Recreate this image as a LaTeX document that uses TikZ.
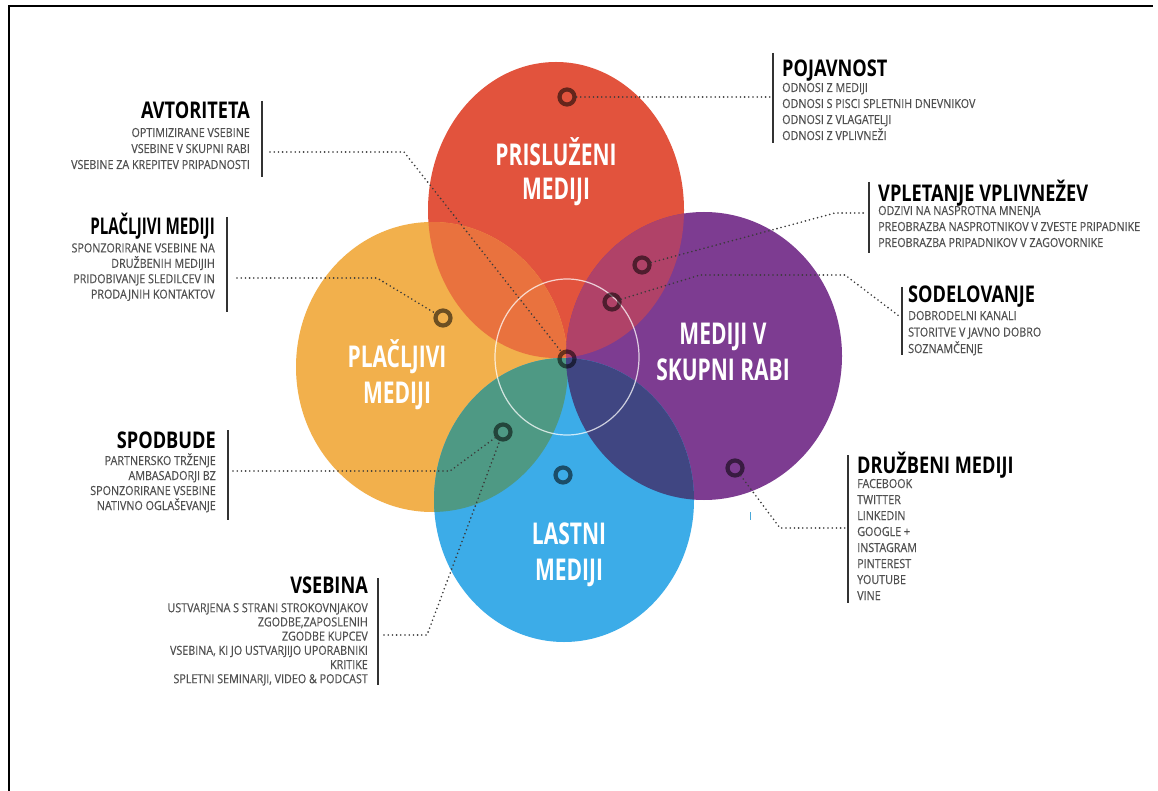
\documentclass[tikz,border=0pt]{standalone}
\usepackage{fontspec}
\setmainfont{Open Sans}
\newfontfamily\hdrfont[FakeStretch=0.79]{Open Sans}
\newfontfamily\hdrnarrow[FakeStretch=0.66]{Open Sans}
\newfontfamily\itmfont[FakeStretch=0.86,FakeBold=0.35]{Open Sans}
\newfontfamily\lblfont[FakeStretch=0.7]{Open Sans}
\definecolor{cred}{HTML}{E2533D}
\definecolor{cyel}{HTML}{F2B04C}
\definecolor{cpur}{HTML}{7D3C91}
\definecolor{cblu}{HTML}{3CACE8}
\definecolor{cry}{HTML}{E9723E}
\definecolor{crp}{HTML}{B04268}
\definecolor{cyb}{HTML}{4E9984}
\definecolor{cpb}{HTML}{404682}
\definecolor{itemgray}{HTML}{505050}
\definecolor{bargray}{HTML}{333333}
\definecolor{dotgray}{HTML}{3A3A3A}
\definecolor{tickblue}{HTML}{4AA8D8}
\tikzset{
  hdr/.style={font=\hdrfont\bfseries\fontsize{23}{23}\selectfont, text=black, inner sep=0pt},
  hdrn/.style={hdr, font=\hdrnarrow\bfseries\fontsize{23}{23}\selectfont},
  itm/.style={font=\itmfont\fontsize{12.5}{12.5}\selectfont, text=itemgray, inner sep=0pt},
  lbl/.style={font=\lblfont\bfseries\fontsize{30}{30}\selectfont, text=white, inner sep=0pt, anchor=base},
  bar/.style={line width=2.4pt, draw=bargray},
  dotline/.style={draw=dotgray, line width=1.8pt, dash pattern=on 0pt off 4.2pt, line cap=round},
  marker/.style={circle, draw=black, draw opacity=0.55, line width=4.2pt, minimum size=15pt, inner sep=0pt},
}
\begin{document}
\begin{tikzpicture}[x=1pt,y=-1pt]
\useasboundingbox (0,0) rectangle (1158,791);
\fill[white] (0,0) rectangle (1158,791);
% frame
\draw[line width=2.6pt] (9,791) -- (9,6) -- (1153,6);

% the four media circles
\fill[cred] (556,210) ellipse [x radius=128pt, y radius=148pt];
\fill[cyel] (432,367) ellipse [x radius=136pt, y radius=145pt];
\fill[cpur] (704,356) ellipse [x radius=138pt, y radius=144pt];
\fill[cblu] (564,500) ellipse [x radius=130pt, y radius=142pt];

% overlaps
\begin{scope}
  \clip (556,210) ellipse [x radius=128pt, y radius=148pt];
  \fill[cry] (432,367) ellipse [x radius=136pt, y radius=145pt];
  \fill[crp] (704,356) ellipse [x radius=138pt, y radius=144pt];
\end{scope}
\begin{scope}
  \clip (564,500) ellipse [x radius=130pt, y radius=142pt];
  \fill[cyb] (432,367) ellipse [x radius=136pt, y radius=145pt];
  \fill[cpb] (704,356) ellipse [x radius=138pt, y radius=144pt];
\end{scope}

% inner ring
\draw[white, draw opacity=0.75, line width=1.2pt] (567,357) ellipse [x radius=72pt, y radius=78pt];

% circle labels
\node[lbl] (l-pri1) at (556,166) {PRISLUŽENI};
\node[lbl] (l-pri2) at (556,200) {MEDIJI};
\node[lbl] (l-pla1) at (397,367) {PLAČLJIVI};
\node[lbl] (l-pla2) at (397,403) {MEDIJI};
\node[lbl] (l-sku1) at (723,344) {MEDIJI V};
\node[lbl] (l-sku2) at (723,380) {SKUPNI RABI};
\node[lbl] (l-las1) at (569,544) {LASTNI};
\node[lbl] (l-las2) at (569,580) {MEDIJI};

% markers
\node[marker] (m-poj) at (567,97) {};
\node[marker] (m-c) at (567,359) {};
\node[marker] (m-pla) at (443,318) {};
\node[marker] (m-vpl) at (642,265) {};
\node[marker] (m-sod) at (612,302) {};
\node[marker] (m-teal) at (503,432) {};
\node[marker] (m-las) at (563,475) {};
\node[marker] (m-dru) at (735,468) {};

% connector bends and ends
\coordinate (avt-e) at (270,152);
\coordinate (avt-b) at (404,152);
\coordinate (pla-e) at (237,278);
\coordinate (pla-b) at (377,278);
\coordinate (spo-e) at (233,471);
\coordinate (spo-b) at (450,471);
\coordinate (vse-e) at (384,635);
\coordinate (vse-b) at (427,635);
\coordinate (poj-e) at (770,97);
\coordinate (vpl-b) at (835,213);
\coordinate (vpl-e) at (866,213);
\coordinate (sod-b1) at (700,275);
\coordinate (sod-b2) at (845,275);
\coordinate (sod-e) at (899,316);
\coordinate (dru-b) at (780,528);
\coordinate (dru-e) at (845,528);

% connectors
\draw[dotline] (avt-e) -- (avt-b) -- (m-c);
\draw[dotline] (pla-e) -- (pla-b) -- (m-pla);
\draw[dotline] (spo-e) -- (spo-b) -- (m-teal);
\draw[dotline] (vse-e) -- (vse-b) -- (m-teal);
\draw[dotline] (m-poj) -- (poj-e);
\draw[dotline] (m-vpl) -- (vpl-b) -- (vpl-e);
\draw[dotline] (m-sod) -- (sod-b1) -- (sod-b2) -- (sod-e);
\draw[dotline] (m-dru) -- (dru-b) -- (dru-e);
\draw[tickblue, line width=1pt] (750,512) -- (750,520);

% text blocks, left side
\draw[bar] (262,101) -- (262,177);
\node[hdr, anchor=base east] (avt) at (250,119) {AVTORITETA};
\foreach \t [count=\i] in {OPTIMIZIRANE VSEBINE, VSEBINE V SKUPNI RABI, VSEBINE ZA KREPITEV PRIPADNOSTI}
  \node[itm, anchor=base east] (avt-\i) at (250,{121+16*\i}) {\t};

\draw[bar] (227,217) -- (227,312);
\node[hdrn, anchor=base east] (pla) at (215,235) {PLAČLJIVI MEDIJI};
\foreach \t [count=\i] in {SPONZORIRANE VSEBINE NA, DRUŽBENIH MEDIJIH, PRIDOBIVANJE SLEDILCEV IN, PRODAJNIH KONTAKTOV}
  \node[itm, anchor=base east] (pla-\i) at (215,{237+15.4*\i}) {\t};

\draw[bar] (228,430) -- (228,520);
\node[hdr, anchor=base east] (spo) at (216,448) {SPODBUDE};
\foreach \t [count=\i] in {PARTNERSKO TRŽENJE, AMBASADORJI BZ, SPONZORIRANE VSEBINE, NATIVNO OGLAŠEVANJE}
  \node[itm, anchor=base east] (spo-\i) at (216,{450+15*\i}) {\t};

\draw[bar] (378,578) -- (378,685);
\node[hdr, anchor=base east] (vse) at (368,593) {VSEBINA};
\foreach \t [count=\i] in {USTVARJENA S STRANI STROKOVNJAKOV, {ZGODBE,ZAPOSLENIH}, ZGODBE KUPCEV, {VSEBINA, KI JO USTVARJIJO UPORABNIKI}, KRITIKE, {SPLETNI SEMINARJI, VIDEO \& PODCAST}}
  \node[itm, anchor=base east] (vse-\i) at (368,{598+14.2*\i}) {\t};

% text blocks, right side
\draw[bar] (773,53) -- (773,143);
\node[hdr, anchor=base west] (poj) at (782,77) {POJAVNOST};
\foreach \t [count=\i] in {ODNOSI Z MEDIJI, ODNOSI S PISCI SPLETNIH DNEVNIKOV, ODNOSI Z VLAGATELJI, ODNOSI Z VPLIVNEŽI}
  \node[itm, anchor=base west] (poj-\i) at (782,{76+16*\i}) {\t};

\draw[bar] (869,182) -- (869,253);
\node[hdr, anchor=base west] (vpl) at (878,202) {VPLETANJE VPLIVNEŽEV};
\foreach \t [count=\i] in {ODZIVI NA NASPROTNA MNENJA, PREOBRAZBA NASPROTNIKOV V ZVESTE PRIPADNIKE, PREOBRAZBA PRIPADNIKOV V ZAGOVORNIKE}
  \node[itm, anchor=base west] (vpl-\i) at (878,{199+16*\i}) {\t};

\draw[bar] (902,287) -- (902,355);
\node[hdr, anchor=base west] (sod) at (908,303) {SODELOVANJE};
\foreach \t [count=\i] in {DOBRODELNI KANALI, STORITVE V JAVNO DOBRO, SOZNAMČENJE}
  \node[itm, anchor=base west] (sod-\i) at (908,{303.5+16.5*\i}) {\t};

\draw[bar] (848,455) -- (848,603);
\node[hdr, anchor=base west] (dru) at (857,473) {DRUŽBENI MEDIJI};
\foreach \t [count=\i] in {FACEBOOK, TWITTER, LINKEDIN, GOOGLE +, INSTAGRAM, PINTEREST, YOUTUBE, VINE}
  \node[itm, anchor=base west] (dru-\i) at (857,{472+16*\i}) {\t};
\end{tikzpicture}
\end{document}
